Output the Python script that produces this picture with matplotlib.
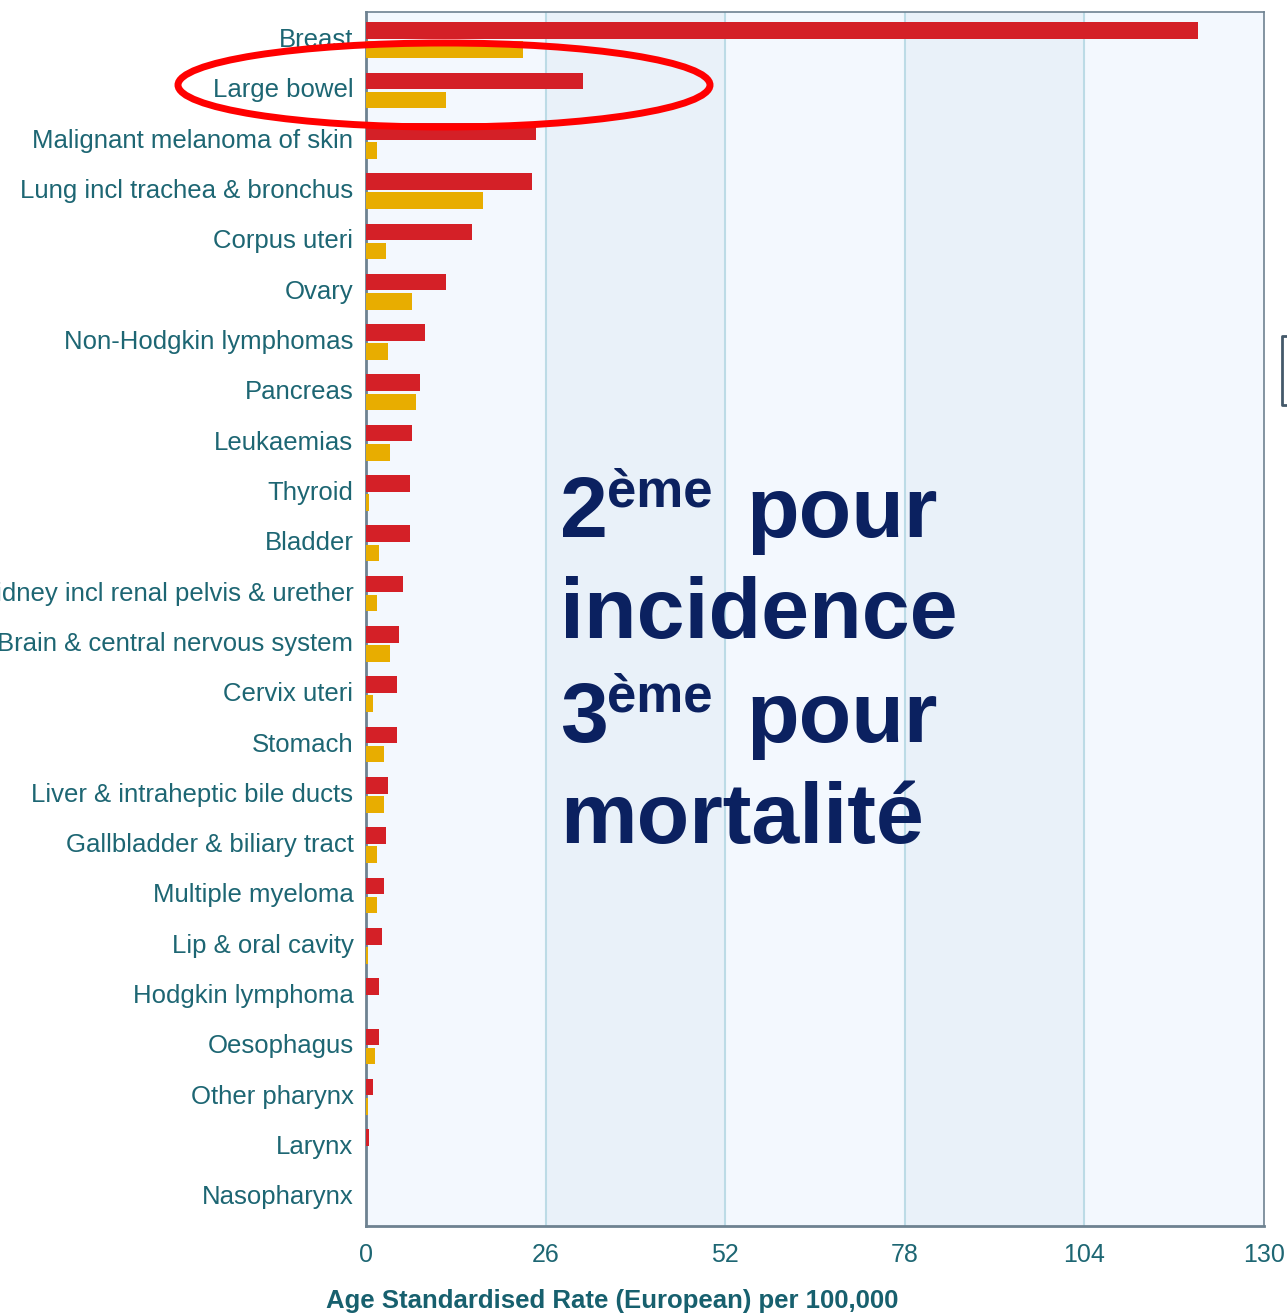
import matplotlib.pyplot as plt
from matplotlib.patches import Ellipse
import numpy as np

sites = ['Breast', 'Large bowel', 'Malignant melanoma of skin', 'Lung incl trachea & bronchus',
         'Corpus uteri', 'Ovary', 'Non-Hodgkin lymphomas', 'Pancreas', 'Leukaemias', 'Thyroid',
         'Bladder', 'Kidney incl renal pelvis & urether', 'Brain & central nervous system',
         'Cervix uteri', 'Stomach', 'Liver & intraheptic bile ducts', 'Gallbladder & biliary tract',
         'Multiple myeloma', 'Lip & oral cavity', 'Hodgkin lymphoma', 'Oesophagus',
         'Other pharynx', 'Larynx', 'Nasopharynx']
incidence = [120.4, 31.4, 24.6, 24.0, 15.3, 11.6, 8.5, 7.8, 6.7, 6.4, 6.4, 5.4, 4.8,
             4.5, 4.5, 3.2, 2.9, 2.6, 2.3, 1.9, 1.9, 1.0, 0.4, 0.0]
mortality = [22.7, 11.6, 1.6, 16.9, 2.9, 6.7, 3.2, 7.2, 3.5, 0.4, 1.9, 1.6, 3.5,
             1.0, 2.6, 2.6, 1.6, 1.6, 0.3, 0.0, 1.3, 0.3, 0.0, 0.0]
xticks = [0, 26, 52, 78, 104, 130]

W, H = 1287, 1316
fig = plt.figure(figsize=(W / 100, H / 100), dpi=100)
ax = fig.add_axes([366 / W, 1 - 1226 / H, (1264 - 366) / W, (1226 - 12) / H])

teal = '#1d6673'
label_font = 'Liberation Sans'

# alternating bands
for i in range(len(xticks) - 1):
    ax.axvspan(xticks[i], xticks[i + 1], color='#f3f8fe' if i % 2 == 0 else '#e9f1f9', zorder=0)
for x in xticks[1:-1]:
    ax.axvline(x, color='#bcdbe6', lw=1.5, zorder=1)

y = np.arange(len(sites))
bh = 0.33
ax.barh(y - 0.19, incidence, height=bh, color='#d42027', lw=0, zorder=3)
ax.barh(y + 0.19, mortality, height=bh, color='#e8ad00', lw=0, zorder=3)

ax.set_xlim(0, 130)
ax.set_ylim(23.57, -0.56)
ax.set_yticks(y - 0.05)
ax.set_yticklabels(sites, fontsize=18.5, color=teal, family=label_font)
ax.set_xticks(xticks)
ax.set_xticklabels([str(t) for t in xticks], fontsize=18, color=teal, family=label_font)
ax.tick_params(axis='both', length=0)
ax.tick_params(axis='y', pad=9)
ax.tick_params(axis='x', pad=12)
for s in ax.spines.values():
    s.set_color('#6e8291')
    s.set_linewidth(1.2)
ax.spines['left'].set_linewidth(2)
ax.spines['bottom'].set_linewidth(2)

fig.text(612 / W, 1 - 1301 / H, 'Age Standardised Rate (European) per 100,000', ha='center',
         va='center', fontsize=18.5, fontweight='bold', color='#17606e', family=label_font)

# red ellipse around Large bowel
ell = Ellipse((444 / W, 1 - 85 / H), 532 / W, 84 / H, transform=fig.transFigure,
              fill=False, edgecolor='#ff0000', lw=5, zorder=10)
fig.patches.append(ell)

# annotation
navy = '#0b2160'
big = dict(fontsize=62, fontweight='bold', color=navy, family='Liberation Sans', va='baseline')
sup = dict(fontsize=38, fontweight='bold', color=navy, family='Liberation Sans', va='baseline')
for num, base in [('2', 537), ('3', 742)]:
    fig.text(560 / W, 1 - base / H, num, **big)
    fig.text(607 / W, 1 - (base - 30) / H, 'ème', **sup)
    fig.text(746 / W, 1 - base / H, 'pour', **big)
fig.text(560 / W, 1 - 638 / H, 'incidence', **big)
fig.text(560 / W, 1 - 843 / H, 'mortalité', **big)

# right edge bracket artefact
fig.add_artist(plt.Line2D([1286 / W, 1282 / W, 1282 / W, 1286 / W],
                          [1 - 336 / H, 1 - 336 / H, 1 - 405 / H, 1 - 405 / H],
                          transform=fig.transFigure, color='#44596a', lw=2))

fig.savefig('out.png', dpi=100)
